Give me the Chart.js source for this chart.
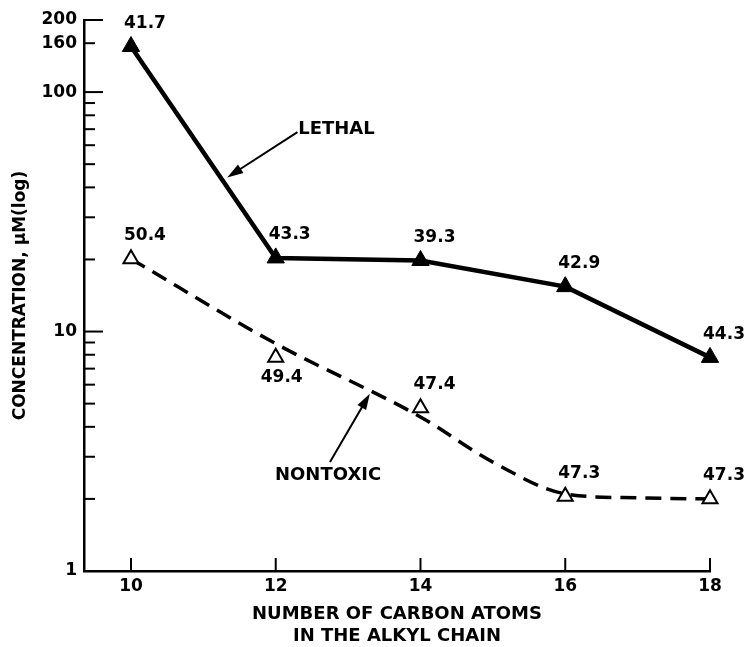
<!DOCTYPE html>
<html>
<head>
<meta charset="utf-8">
<script src="https://cdn.jsdelivr.net/npm/chart.js@4.4.1/dist/chart.umd.min.js"></script>
<style>
  html, body { margin: 0; padding: 0; background: #fff; }
  #wrap { width: 747px; height: 647px; position: relative; }
</style>
</head>
<body>
<div id="wrap"><canvas id="chart"></canvas></div>
<script>
var carbonAtoms = [10, 12, 14, 16, 18];
var lethalConc = [155, 20.3, 19.8, 15.4, 7.8];
var lethalLabels = ['41.7', '43.3', '39.3', '42.9', '44.3'];
var nontoxicConc = [20.1, 7.8, 4.8, 2.05, 2.0];
var nontoxicLabels = ['50.4', '49.4', '47.4', '47.3', '47.3'];

// the dashed nontoxic curve is a smoothed trend, not point to point
var nontoxicFitX = [10, 12, 14, 15, 16, 17, 18];
var nontoxicFitY = [20.1, 8.9, 4.4, 2.85, 2.1, 2.02, 2.0];

var xTicks = [10, 12, 14, 16, 18];
var yTicks = [1, 2, 3, 4, 5, 6, 7, 8, 9, 10, 20, 30, 40, 50, 60, 70, 80, 90, 100, 160, 200];
var yTickLabels = [1, 10, 100, 160, 200];
var yMajorTicks = [10, 100, 200];

var FONT = 'bold 17px "DejaVu Sans"';
var FONT_WORDS = 'bold 18px "DejaVu Sans"';
var ink = '#000';

function toPoints(xs, ys) {
    return xs.map(function (x, i) { return { x: x, y: ys[i] }; });
}

function arrow(ctx, x1, y1, x2, y2) {
    var ang = Math.atan2(y2 - y1, x2 - x1);
    var len = 16, half = 5;
    ctx.beginPath();
    ctx.moveTo(x1, y1);
    ctx.lineTo(x2 - Math.cos(ang) * len * 0.8, y2 - Math.sin(ang) * len * 0.8);
    ctx.lineWidth = 2;
    ctx.stroke();
    ctx.beginPath();
    ctx.moveTo(x2, y2);
    ctx.lineTo(x2 - Math.cos(ang) * len - Math.sin(ang) * half, y2 - Math.sin(ang) * len + Math.cos(ang) * half);
    ctx.lineTo(x2 - Math.cos(ang) * len + Math.sin(ang) * half, y2 - Math.sin(ang) * len - Math.cos(ang) * half);
    ctx.closePath();
    ctx.fill();
}

var decorPlugin = {
    id: 'decor',
    afterDatasetsDraw: function (chart) {
        var ctx = chart.ctx;
        var xs = chart.scales.x, ys = chart.scales.y;
        var area = chart.chartArea;
        ctx.save();
        ctx.strokeStyle = ink;
        ctx.fillStyle = ink;

        // inward tick marks on the y axis
        ctx.lineWidth = 2;
        yTicks.forEach(function (v) {
            if (v === 1) return;
            var py = ys.getPixelForValue(v);
            var len = yMajorTicks.indexOf(v) >= 0 ? 19 : 11;
            ctx.beginPath();
            ctx.moveTo(area.left, py);
            ctx.lineTo(area.left + len, py);
            ctx.stroke();
        });
        // inward tick marks on the x axis
        xTicks.forEach(function (v) {
            var px = xs.getPixelForValue(v);
            ctx.beginPath();
            ctx.moveTo(px, area.bottom);
            ctx.lineTo(px, area.bottom - 13);
            ctx.stroke();
        });

        // value labels next to the points
        ctx.font = FONT;
        ctx.textAlign = 'center';
        ctx.textBaseline = 'middle';
        chart.getDatasetMeta(0).data.forEach(function (pt, i) {
            ctx.fillText(lethalLabels[i], pt.x + 14, pt.y - 23);
        });
        chart.getDatasetMeta(2).data.forEach(function (pt, i) {
            if (i === 1) ctx.fillText(nontoxicLabels[i], pt.x + 6, pt.y + 20);
            else ctx.fillText(nontoxicLabels[i], pt.x + 14, pt.y - 23);
        });

        // series call-outs
        ctx.font = FONT_WORDS;
        ctx.textAlign = 'left';
        ctx.fillText('LETHAL', xs.getPixelForValue(12.31), ys.getPixelForValue(70));
        arrow(ctx, xs.getPixelForValue(12.3), ys.getPixelForValue(68),
            xs.getPixelForValue(11.33), ys.getPixelForValue(44));
        ctx.fillText('NONTOXIC', xs.getPixelForValue(11.99), ys.getPixelForValue(2.51));
        arrow(ctx, xs.getPixelForValue(12.75), ys.getPixelForValue(2.85),
            xs.getPixelForValue(13.3), ys.getPixelForValue(5.5));
        ctx.restore();
    }
};

var ctx1 = document.getElementById('chart').getContext('2d');

new Chart(ctx1, {
    type: 'line',
    data: {
        datasets: [{
            label: 'LETHAL',
            data: toPoints(carbonAtoms, lethalConc),
            borderColor: ink,
            backgroundColor: ink,
            borderWidth: 4.5,
            tension: 0,
            pointStyle: 'triangle',
            pointRadius: 10,
            pointBorderWidth: 1,
            pointBackgroundColor: ink,
            clip: false,
            order: 1
        }, {
            label: 'NONTOXIC trend',
            data: toPoints(nontoxicFitX, nontoxicFitY),
            borderColor: ink,
            borderWidth: 3.5,
            borderDash: [16, 9],
            cubicInterpolationMode: 'monotone',
            pointRadius: 0,
            clip: false,
            order: 3
        }, {
            label: 'NONTOXIC',
            data: toPoints(carbonAtoms, nontoxicConc),
            showLine: false,
            pointStyle: 'triangle',
            pointRadius: 8.7,
            pointBorderWidth: 2,
            pointBorderColor: ink,
            pointBackgroundColor: '#fff',
            clip: false,
            order: 2
        }]
    },
    options: {
        responsive: true,
        maintainAspectRatio: false,
        animation: false,
        layout: { padding: { top: 20, right: 37, left: 0, bottom: 0 } },
        plugins: {
            legend: { display: false },
            tooltip: { enabled: false }
        },
        scales: {
            x: {
                type: 'linear',
                min: 9.351,
                max: 18,
                afterBuildTicks: function (scale) {
                    scale.ticks = xTicks.map(function (v) { return { value: v }; });
                },
                afterFit: function (scale) { scale.height = 76; },
                grid: { display: false, drawTicks: false },
                border: { display: true, color: ink, width: 2.5 },
                ticks: {
                    autoSkip: false,
                    maxRotation: 0,
                    padding: 5,
                    color: ink,
                    font: { family: 'DejaVu Sans', size: 17, weight: 'bold' }
                },
                title: {
                    display: true,
                    text: ['NUMBER OF CARBON ATOMS', 'IN THE ALKYL CHAIN'],
                    color: ink,
                    padding: { top: 0, bottom: 0 },
                    font: { family: 'DejaVu Sans', size: 18, weight: 'bold', lineHeight: 1.22 }
                }
            },
            y: {
                type: 'logarithmic',
                min: 1,
                max: 200,
                afterBuildTicks: function (scale) {
                    scale.ticks = yTicks.map(function (v) { return { value: v }; });
                },
                afterFit: function (scale) { scale.width = 84; },
                grid: { display: false, drawTicks: false },
                border: { display: true, color: ink, width: 2.5 },
                ticks: {
                    autoSkip: false,
                    padding: 7,
                    color: ink,
                    font: { family: 'DejaVu Sans', size: 17, weight: 'bold' },
                    callback: function (value) {
                        return yTickLabels.indexOf(value) >= 0 ? String(value) : '';
                    }
                },
                title: {
                    display: true,
                    text: 'CONCENTRATION, \u03bcM(log)',
                    color: ink,
                    padding: { top: 10, bottom: 0 },
                    font: { family: 'DejaVu Sans', size: 17, weight: 'bold' }
                }
            }
        }
    },
    plugins: [decorPlugin]
});
</script>
</body>
</html>
